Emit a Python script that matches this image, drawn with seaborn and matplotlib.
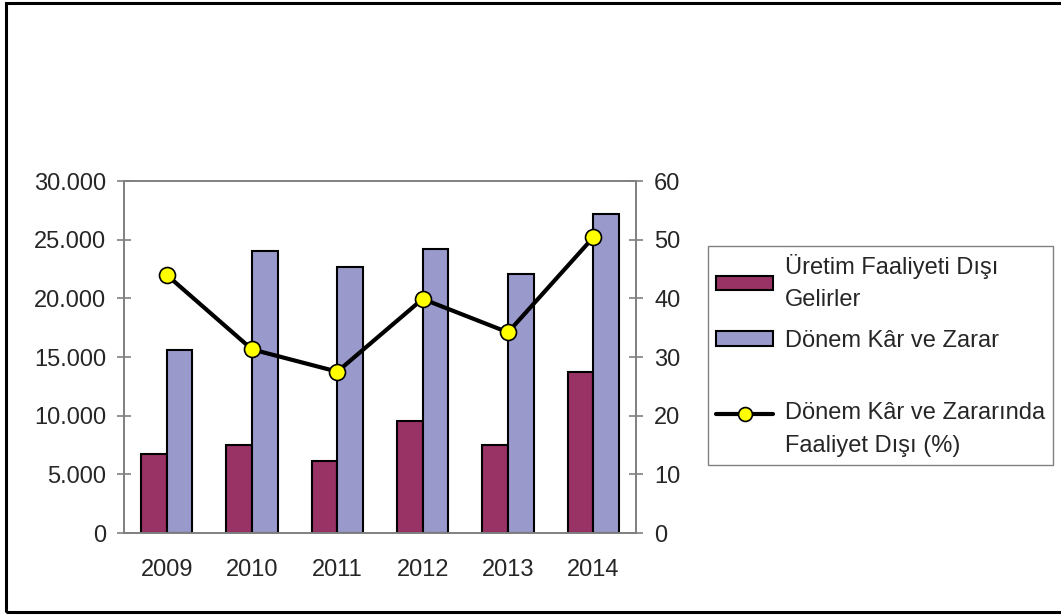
import numpy as np
import pandas as pd
import matplotlib
matplotlib.use("Agg")
import matplotlib.pyplot as plt
import matplotlib.ticker as mticker
from matplotlib.patches import Rectangle
from matplotlib.lines import Line2D
import seaborn as sns

years = ["2009", "2010", "2011", "2012", "2013", "2014"]
diger_gelir = [6740, 7510, 6170, 9580, 7510, 13700]
donem_kar = [15560, 24030, 22660, 24170, 22100, 27220]
faaliyet_disi_oran = [44.0, 31.3, 27.5, 39.9, 34.2, 50.4]

series_names = ["Üretim Faaliyeti Dışı Gelirler", "Dönem Kâr ve Zarar"]
legend_labels = ["Üretim Faaliyeti Dışı\nGelirler", "Dönem Kâr ve Zarar",
                 "\nDönem Kâr ve Zararında\nFaaliyet Dışı (%)"]

df = pd.DataFrame({
    "Yil": years * 2,
    "Seri": [series_names[0]] * len(years) + [series_names[1]] * len(years),
    "Deger": diger_gelir + donem_kar,
})
df_line = pd.DataFrame({"Yil": years, "Oran": faaliyet_disi_oran})

sns.set_style("white")
plt.rcParams["font.family"] = ["Liberation Sans", "DejaVu Sans"]
fs = 17

fig = plt.figure(figsize=(10.61, 6.16), dpi=100)
ax = fig.add_axes([124 / 1061, 1 - 533 / 616, 512 / 1061, 352 / 616])

sns.barplot(data=df, x="Yil", y="Deger", hue="Seri", palette=["#993366", "#9999CC"],
            width=0.6, edgecolor="black", linewidth=1.5, saturation=1, ax=ax)
bar_handles, _ = ax.get_legend_handles_labels()
ax.get_legend().remove()

ax2 = ax.twinx()
sns.lineplot(data=df_line, x="Yil", y="Oran", color="black", linewidth=3, marker="o",
             markersize=11.5, markerfacecolor="#FFFF00", markeredgecolor="black",
             markeredgewidth=1.2, ax=ax2)

ax.set_xlim(-0.5, len(years) - 0.5)
ax.set_ylim(0, 30000)
ax2.set_ylim(0, 60)
ax.set_yticks(np.arange(0, 30001, 5000))
ax2.set_yticks(np.arange(0, 61, 10))
ax.yaxis.set_major_formatter(mticker.FuncFormatter(lambda v, p: f"{int(v):,}".replace(",", ".")))
ax.set_xlabel("")
ax.set_ylabel("")
ax2.set_ylabel("")
ax2.set_xlabel("")

ax.set_xticks(np.arange(-0.5, len(years)), minor=True)
ax.tick_params(axis="x", which="major", length=0, pad=19, labelsize=fs)
ax.tick_params(axis="x", which="minor", direction="inout", length=10, color="#808080", width=1.2)
ax.tick_params(axis="y", direction="inout", length=10, color="#808080", width=1.2, pad=8, labelsize=fs, left=True)
ax2.tick_params(axis="y", direction="inout", length=10, color="#808080", width=1.2, pad=8, labelsize=fs, right=True)

for a in (ax, ax2):
    for s in a.spines.values():
        s.set_visible(True)
        s.set_color("#808080")
        s.set_linewidth(1.2)

line_handle = Line2D([], [], color="black", linewidth=3, marker="o", markersize=10,
                     markerfacecolor="#FFFF00", markeredgecolor="black", markeredgewidth=1.2)
leg = fig.legend(bar_handles + [line_handle], legend_labels, loc="upper left",
                 bbox_to_anchor=(708 / 1061, 1 - 246 / 616), bbox_transform=fig.transFigure,
                 fontsize=fs, frameon=True, fancybox=False, edgecolor="#808080", framealpha=1,
                 handlelength=2.4, handleheight=0.55, handletextpad=0.5, labelspacing=0.78,
                 borderpad=0.35, borderaxespad=0)
for t in leg.get_texts():
    t.set_linespacing(1.6)

fig.patches.append(Rectangle((6 / 1061, 4 / 616), 1.1, 1 - 7 / 616, transform=fig.transFigure,
                             fill=False, edgecolor="black", linewidth=2.2, clip_on=False))

fig.savefig("out.png", dpi=100)
